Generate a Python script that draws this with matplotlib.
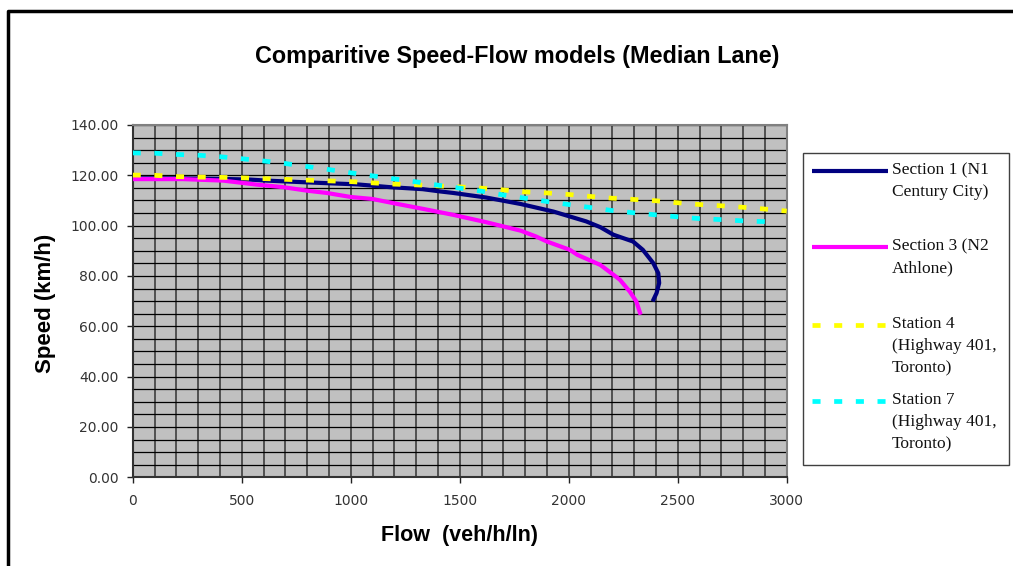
import numpy as np
from matplotlib import pyplot as plt
from matplotlib.lines import Line2D
from matplotlib.patches import Rectangle

plt.rcParams['lines.scale_dashes'] = False

# %% data
sec1_flow = [0, 200, 400, 540, 615, 800, 1030, 1180, 1330, 1410, 1470, 1620, 1780,
             1930, 2080, 2145, 2205, 2295, 2340, 2388, 2411, 2415, 2403, 2385]
sec1_speed = [118.8, 118.8, 118.6, 118.3, 117.9, 117.2, 116.4, 115.3, 114.5, 113.6, 113.0,
              111.2, 108.6, 105.6, 101.7, 99.4, 96.4, 93.7, 90.4, 85.1, 81.1, 77.2, 73.2, 69.9]

sec3_flow = [0, 230, 415, 570, 690, 800, 890, 1000, 1100, 1210, 1330, 1470, 1620, 1780,
             1850, 1900, 2005, 2040, 2145, 2205, 2235, 2280, 2310, 2330]
sec3_speed = [118.5, 118.5, 117.9, 116.3, 115.3, 113.9, 113.0, 111.4, 110.6, 108.7, 106.7,
              104.3, 101.4, 98.0, 95.7, 93.7, 90.4, 88.4, 84.4, 80.5, 78.5, 73.8, 69.9, 64.6]

st4_flow = list(range(0, 3001, 100))
st4_speed = [120.1, 120.0, 119.5, 119.3, 119.2, 119.0, 118.7, 118.4, 118.1, 117.8, 117.5,
             117.0, 116.5, 116.2, 115.8, 115.4, 114.9, 114.2, 113.4, 113.0, 112.4, 111.6,
             110.9, 110.4, 109.9, 109.1, 108.4, 107.9, 107.3, 106.6, 105.8]

st7_flow = list(range(0, 2901, 100))
st7_speed = [128.9, 128.8, 128.3, 128.0, 127.4, 126.6, 125.7, 124.7, 123.5, 122.3, 121.0,
             119.8, 118.6, 117.4, 116.1, 114.9, 113.7, 112.2, 110.9, 109.6, 108.4, 107.2,
             106.0, 105.1, 104.3, 103.5, 102.8, 102.4, 101.9, 101.6]

legend_labels = [
    ["Section 1 (N1", "Century City)"],
    ["Section 3 (N2", "Athlone)"],
    ["Station 4", "(Highway 401,", "Toronto)"],
    ["Station 7", "(Highway 401,", "Toronto)"],
]

# %%
W, H = 1013, 566
fig = plt.figure(figsize=(W / 100, H / 100), dpi=100)


def fx(px):
    return px / W


def fy(py):
    return 1 - py / H


ax = fig.add_axes([fx(132.7), fy(477.3), fx(786.7) - fx(132.7), fy(125) - fy(477.3)])
ax.set_facecolor("#C0C0C0")

styles = [
    dict(color="#000080", lw=3.0, ls="-"),
    dict(color="#FF00FF", lw=3.0, ls="-"),
    dict(color="#FFFF00", lw=3.4, ls=(0, (5.8, 9.8))),
    dict(color="#00FFFF", lw=3.4, ls=(0, (5.8, 9.8))),
]

ax.plot(sec1_flow, sec1_speed, zorder=3, solid_capstyle="butt", **styles[0])
ax.plot(sec3_flow, sec3_speed, zorder=3, solid_capstyle="butt", **styles[1])
ax.plot(st4_flow, st4_speed, zorder=3, dash_capstyle="butt", **styles[2])
ax.plot(st7_flow, st7_speed, zorder=3, dash_capstyle="butt", **styles[3])

ax.set_xlim(0, 3000)
ax.set_ylim(0, 140)
ax.set_xticks(np.arange(0, 3001, 500))
ax.set_yticks(np.arange(0, 141, 20))
ax.set_yticklabels(["%.2f" % v for v in np.arange(0, 141, 20)])
ax.set_xticks(np.arange(0, 3001, 100), minor=True)
ax.set_yticks(np.arange(0, 141, 5), minor=True)
ax.tick_params(which="minor", length=0)
ax.tick_params(which="major", length=4, width=1, direction="out", colors="#222222",
               labelsize=10, labelcolor="#333333")
ax.tick_params(axis="x", pad=8)
ax.tick_params(axis="y", pad=6)

ax.set_axisbelow(True)
ax.grid(which="both", axis="x", color="#505050", lw=1.4)
ax.grid(which="both", axis="y", color="#000000", lw=0.9)

for side in ["top", "right"]:
    ax.spines[side].set_color("#808080")
    ax.spines[side].set_linewidth(1.5)
for side in ["left", "bottom"]:
    ax.spines[side].set_color("#333333")
    ax.spines[side].set_linewidth(1.5)

fig.text(fx(517), fy(56), "Comparitive Speed-Flow models (Median Lane)",
         family="Liberation Sans", weight="bold", fontsize=16.8, ha="center", va="center")
fig.text(fx(459), fy(536), "Flow  (veh/h/ln)", family="Liberation Sans", weight="bold",
         fontsize=15.5, ha="center", va="center")
fig.text(fx(45), fy(303), "Speed (km/h)", family="Liberation Sans", weight="bold",
         fontsize=16, ha="center", va="center", rotation=90)

# legend box drawn by hand so the sample sits on the first text line
fig.patches.append(Rectangle((fx(803.3), fy(465)), fx(1009.3) - fx(803.3), fy(153.3) - fy(465),
                             transform=fig.transFigure, facecolor="white",
                             edgecolor="#404040", lw=1.0))
entry_y = [171, 247.3, 325, 401]
for sty, lines, ey in zip(styles, legend_labels, entry_y):
    fig.lines.append(Line2D([fx(811.7), fx(888.3)], [fy(ey), fy(ey)], transform=fig.transFigure,
                            solid_capstyle="butt", dash_capstyle="butt", **sty))
    for i, txt in enumerate(lines):
        fig.text(fx(891.7), fy(ey - 1 + i * 22), txt, family="Liberation Serif", fontsize=12.5,
                 ha="left", va="center", color="#111111")

# outer chart border (cropped on right and bottom)
fig.lines.append(Line2D([fx(8), fx(8), fx(1013 + 10)], [fy(566 + 10), fy(11), fy(11)],
                        transform=fig.transFigure, color="black", lw=2.5))

fig.savefig("out.png", dpi=100)
